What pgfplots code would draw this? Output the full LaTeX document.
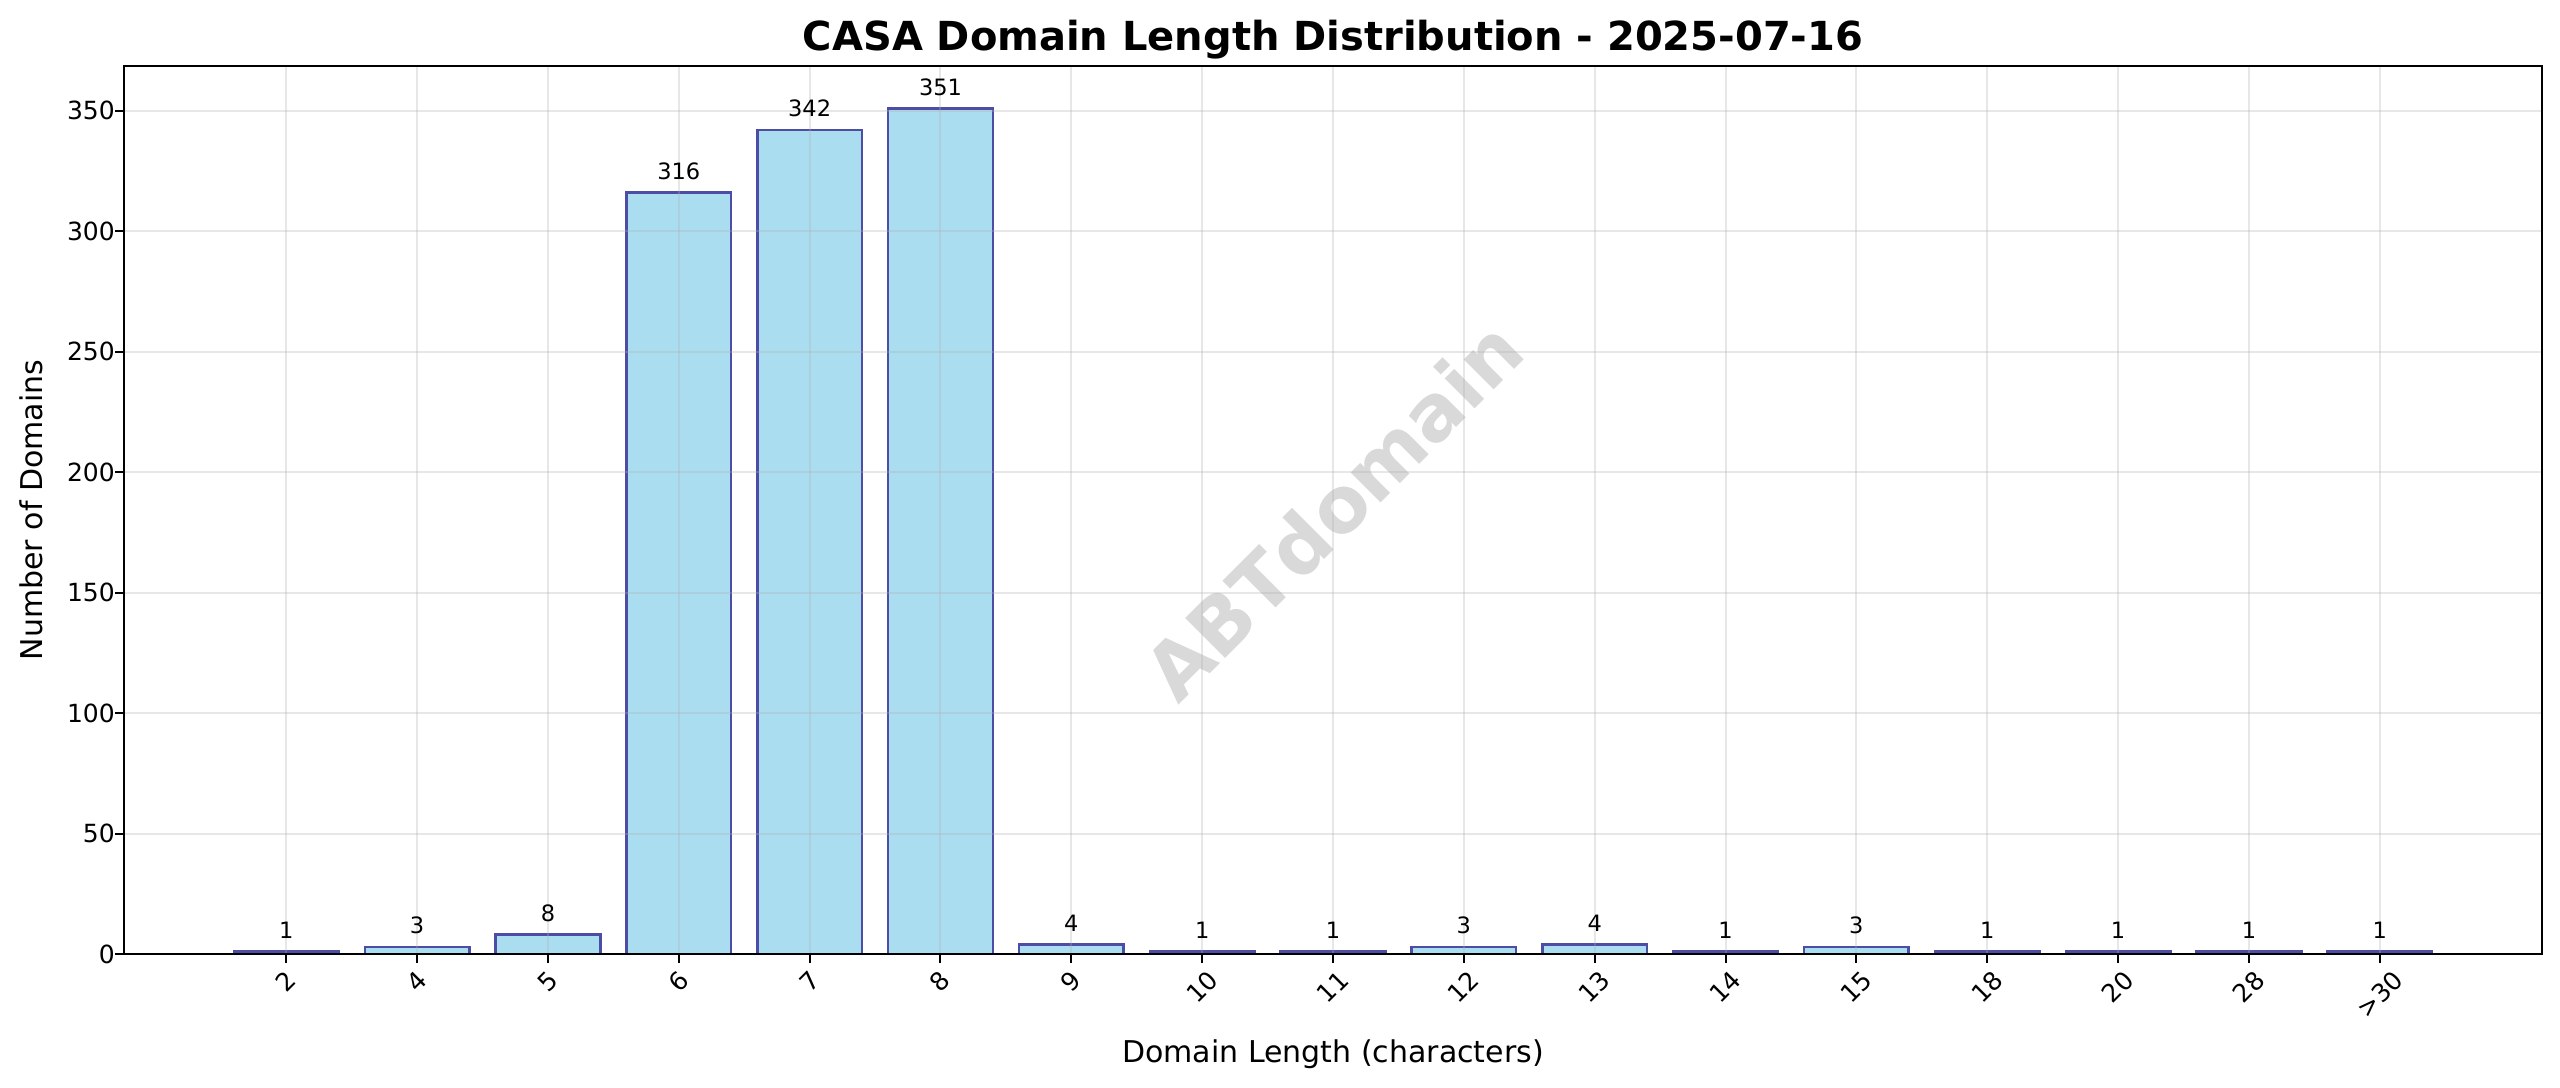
\documentclass[border=0pt]{standalone}
\usepackage{fontspec}
\setmainfont{DejaVu Sans}
\usepackage{graphicx}
\usepackage{pgfplots}
\pgfplotsset{compat=1.18}

\definecolor{barfill}{RGB}{171,221,241}
\definecolor{baredge}{RGB}{77,77,166}
\definecolor{gridc}{RGB}{176,176,176}

% rotated tick label with matplotlib-like line height
\newcommand{\rl}[1]{\rotatebox{45}{\rule[-2.36pt]{0pt}{11.64pt}#1}}

\begin{document}
\begin{tikzpicture}
\useasboundingbox (-49.6pt,-53.2pt) rectangle (974.4pt,381.6pt);
\begin{axis}[
    at={(0,0)}, anchor=south west,
    scale only axis,
    width=967.2pt,
    height=355.2pt,
    xmin=-1.24, xmax=17.24,
    ymin=0, ymax=368.55,
    enlargelimits=false,
    axis on top,
    xtick={0,...,16},
    xticklabels={\rl{2},\rl{4},\rl{5},\rl{6},\rl{7},\rl{8},\rl{9},\rl{10},\rl{11},\rl{12},\rl{13},\rl{14},\rl{15},\rl{18},\rl{20},\rl{28},\rl{>30}},
    ytick={0,50,...,350},
    tick pos=left,
    tick align=outside,
    major tick length=3.5pt,
    every tick/.style={black, line width=0.8pt},
    axis line style={black, line width=0.8pt},
    grid=major,
    major grid style={gridc, opacity=0.3, line width=0.8pt},
    tick label style={font=\fontsize{10}{12}\selectfont},
    xticklabel style={anchor=north, inner sep=0pt, yshift=-1pt},
    yticklabel style={anchor=east, inner sep=0pt},
    /pgf/number format/assume math mode=true,
    title={CASA Domain Length Distribution - 2025-07-16},
    title style={font=\bfseries\fontsize{16}{19}\selectfont, at={(axis description cs:0.5,1.018)}, anchor=base, inner sep=0pt, yshift=-6pt},
    xlabel={Domain Length (characters)},
    xlabel style={font=\fontsize{12}{14}\selectfont, at={(axis description cs:0.5,-0.1227)}, anchor=base, inner sep=0pt},
    ylabel={Number of Domains},
    ylabel style={font=\fontsize{12}{14}\selectfont, at={(axis description cs:-0.0337,0.5)}, anchor=base, inner sep=0pt},
    ybar,
    bar width=0.8,
    nodes near coords,
    nodes near coords style={font=\fontsize{9}{11}\selectfont, text=black, anchor=base, inner sep=0pt, yshift=5.2pt},
]
\addplot[fill=barfill, draw=baredge, line width=1pt] coordinates {
    (0,1) (1,3) (2,8) (3,316) (4,342) (5,351) (6,4) (7,1) (8,1)
    (9,3) (10,4) (11,1) (12,3) (13,1) (14,1) (15,1) (16,1)
};
\node[rotate=45, text=gray, text opacity=0.3, font=\bfseries\fontsize{31}{37}\selectfont]
    at (rel axis cs:0.5,0.5) {ABTdomain};
\end{axis}
\end{tikzpicture}
\end{document}
